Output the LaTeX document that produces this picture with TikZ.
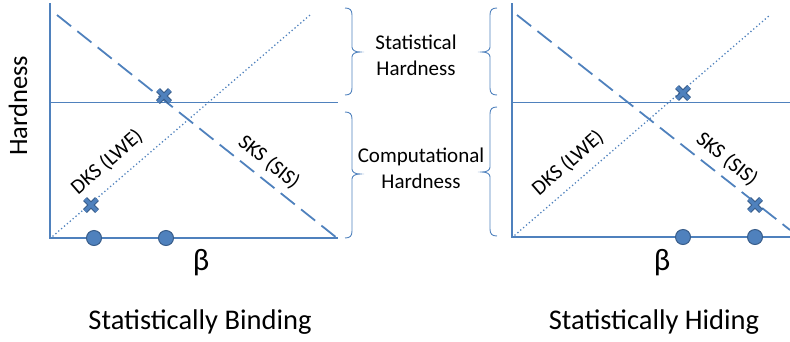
\documentclass[tikz,border=0pt]{standalone}
\usepackage{fontspec}
\setmainfont{Carlito}
\usetikzlibrary{calc}
\definecolor{ob}{RGB}{79,129,189}
\definecolor{obd}{RGB}{56,93,138}
\tikzset{
  axisline/.style={draw=ob, line width=2.8pt},
  thinline/.style={draw=ob, line width=0.9pt},
  dashline/.style={draw=ob, line width=1.8pt, dash pattern=on 18pt off 8pt},
  dotline/.style={draw=ob, line width=1.8pt, line cap=round, dash pattern=on 0pt off 3.8pt},
  dotmark/.style={circle, fill=ob, draw=obd, line width=1pt, minimum size=15pt, inner sep=0pt},
  lab/.style={font=\fontsize{21}{23}\selectfont, inner sep=0pt},
  captext/.style={font=\fontsize{28.5}{30}\selectfont, inner sep=0pt},
  hardtext/.style={font=\fontsize{26.5}{28}\selectfont, inner sep=0pt},
  betatext/.style={font=\fontsize{31}{32}\selectfont, inner sep=0pt},
  midtext/.style={font=\fontsize{21}{26}\selectfont, inner sep=0pt, align=center},
  bracestyle/.style={draw=ob, line width=0.9pt},
}
% #1 = x of hooked ends, #2 = top y, #3 = bottom y, #4 = tip y, #5 = +1 (tip right) or -1 (tip left)
\newcommand{\officebrace}[5]{%
  \draw[bracestyle] (#1,#2)
    .. controls ({#1+5*#5},#2) and ({#1+7*#5},{#2+2}) .. ({#1+7*#5},{#2+7})
    -- ({#1+7*#5},{#4-5})
    .. controls ({#1+7*#5},{#4-2}) and ({#1+10*#5},#4) .. ({#1+15*#5},#4)
    .. controls ({#1+10*#5},#4) and ({#1+7*#5},{#4+2}) .. ({#1+7*#5},{#4+5})
    -- ({#1+7*#5},{#3-7})
    .. controls ({#1+7*#5},{#3-2}) and ({#1+5*#5},#3) .. (#1,#3);
}
\newcommand{\xmark}[1]{%
  \draw[obd, line width=5.4pt] ($(#1)+(-6,-6)$) -- ($(#1)+(6,6)$) ($(#1)+(-6,6)$) -- ($(#1)+(6,-6)$);
  \draw[ob, line width=3.4pt] ($(#1)+(-6,-6)$) -- ($(#1)+(6,6)$) ($(#1)+(-6,6)$) -- ($(#1)+(6,-6)$);
}
\begin{document}
\begin{tikzpicture}[x=1pt, y=-1pt]
\useasboundingbox (0,0) rectangle (790,341);
% ---------- left panel ----------
\coordinate (LO) at (50,238);
\coordinate (LT) at (50,3);
\coordinate (LE) at (338,238);
\coordinate (LH1) at (50,102);
\coordinate (LH2) at (338,102);
\coordinate (LD1) at (57,15);
\coordinate (LD2) at (337,238);
\coordinate (LP1) at (53,236);
\coordinate (LP2) at (310,15);
\draw[thinline] (LH1) -- (LH2);
\draw[dashline] (LD1) -- (LD2);
\draw[dotline] (LP1) -- (LP2);
\draw[axisline] (LT) -- (LO) -- (LE);
\node[dotmark] (lc1) at (94,238) {};
\node[dotmark] (lc2) at (166,238) {};
\coordinate (lx1) at (164,96);
\coordinate (lx2) at (91,205);
\xmark{lx1}
\xmark{lx2}
\node[lab, rotate=41] (ldks) at (107,162) {DKS (LWE)};
\node[lab, rotate=-39] (lsks) at (269,162) {SKS (SIS)};
\node[hardtext, rotate=90] (hard) at (18,106) {Hardness};
\node[betatext] (lbeta) at (201,263) {β};
\node[captext] (lcap) at (200,322) {Statistically Binding};
% left braces
\officebrace{345}{8}{95}{52}{1}
\officebrace{345}{112}{238}{174}{1}
% middle texts
\node[midtext] (stat) at (416,55) {Statistical\\Hardness};
\node[midtext] (comp) at (421,168) {Computational\\Hardness};
% right braces
\officebrace{497}{8}{95}{52}{-1}
\officebrace{497}{107}{236}{172}{-1}
% ---------- right panel ----------
\coordinate (RO) at (512,237);
\coordinate (RT) at (512,3);
\coordinate (RE) at (790,237);
\coordinate (RH1) at (512,102);
\coordinate (RH2) at (790,102);
\coordinate (RD1) at (517,15);
\coordinate (RD2) at (790,230);
\coordinate (RP1) at (515,235);
\coordinate (RP2) at (770,15);
\draw[thinline] (RH1) -- (RH2);
\draw[dashline] (RD1) -- (RD2);
\draw[dotline] (RP1) -- (RP2);
\draw[axisline] (RT) -- (RO) -- (RE);
\node[dotmark] (rc1) at (683,237) {};
\node[dotmark] (rc2) at (755,237) {};
\coordinate (rx1) at (683,93);
\coordinate (rx2) at (755,205);
\xmark{rx1}
\xmark{rx2}
\node[lab, rotate=41] (rdks) at (568,163) {DKS (LWE)};
\node[lab, rotate=-39] (rsks) at (727,159) {SKS (SIS)};
\node[betatext] (rbeta) at (662,263) {β};
\node[captext] (rcap) at (654,322) {Statistically Hiding};
\end{tikzpicture}
\end{document}
